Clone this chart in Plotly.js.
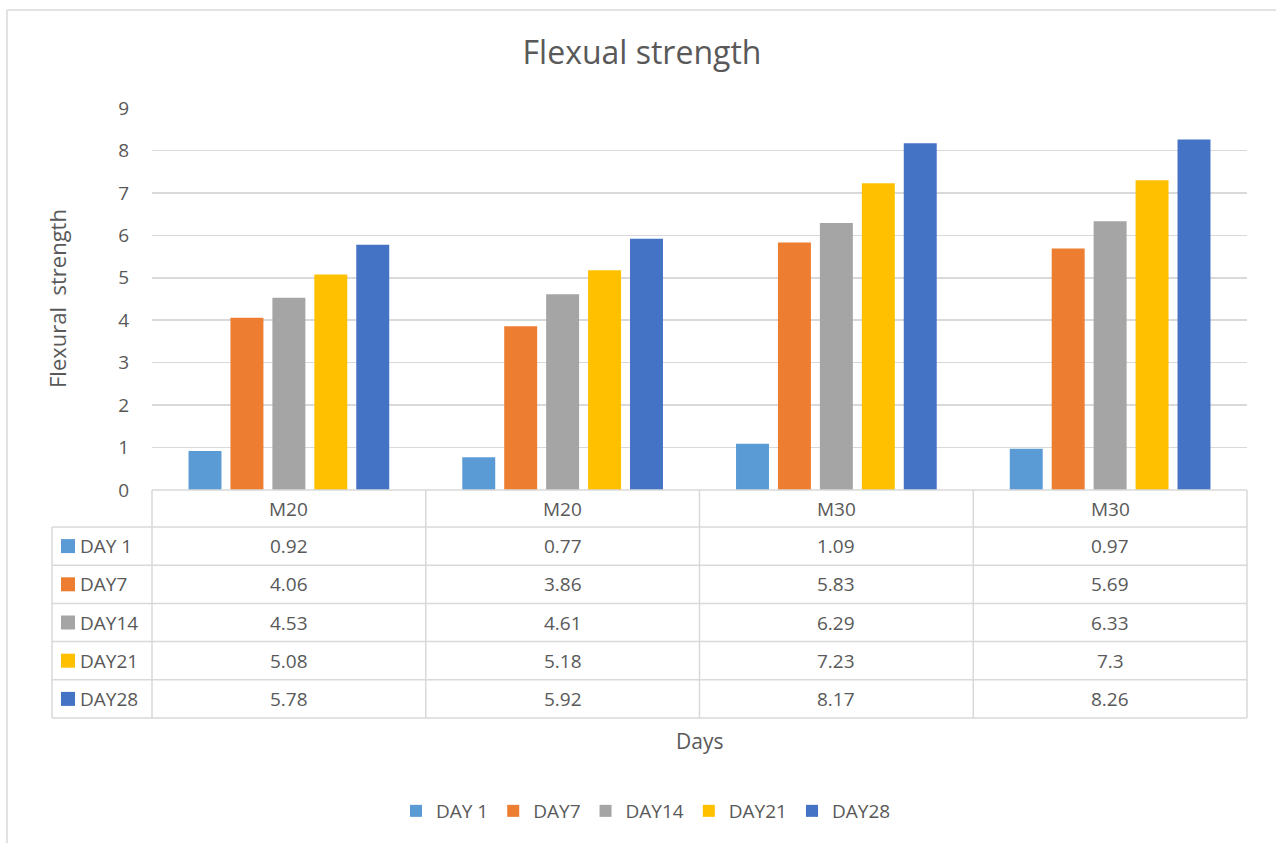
<!DOCTYPE html>
<html>
<head>
<meta charset="utf-8">
<script src="https://cdn.plot.ly/plotly-3.0.1.min.js"></script>
<style>html,body{margin:0;padding:0;background:#fff;}#chart{width:1276px;height:843px;}</style>
</head>
<body>
<div id="chart"></div>
<script>
// ---- data ----
const categories = ["M20", "M20", "M30", "M30"];
const seriesNames = ["DAY 1", "DAY7", "DAY14", "DAY21", "DAY28"];
const day1  = [0.92, 0.77, 1.09, 0.97];
const day7  = [4.06, 3.86, 5.83, 5.69];
const day14 = [4.53, 4.61, 6.29, 6.33];
const day21 = [5.08, 5.18, 7.23, 7.3];
const day28 = [5.78, 5.92, 8.17, 8.26];
const seriesValues = [day1, day7, day14, day21, day28];
const colors = ["#5b9bd5", "#ed7d31", "#a5a5a5", "#ffc000", "#4472c4"];

// ---- geometry (pixels) ----
const W = 1276, H = 843;
const PL = 152, PR = 1247, PT = 108, PB = 490;
const pw = PR - PL, ph = PB - PT;
const px = x => (x - PL) / pw;
const py = y => (PB - y) / ph;
const FONT = "Open Sans, Noto Sans, sans-serif";
const TXT = "#595959";
const LINE = "#d9d9d9";
const FS = 19;

const idx = categories.map((c, i) => i);
const traces = seriesValues.map((vals, s) => ({
  type: "bar",
  name: seriesNames[s],
  x: idx,
  y: vals,
  marker: {color: colors[s]},
  hoverinfo: "skip"
}));

const shapes = [];
const annotations = [];
const lineShape = (x0, y0, x1, y1) => shapes.push({
  type: "line", xref: "paper", yref: "paper",
  x0: px(x0), y0: py(y0), x1: px(x1), y1: py(y1),
  line: {color: LINE, width: 1.5}, layer: "above"
});

// table
const colX = [152, 425.75, 699.5, 973.25, 1247];
const rowY = [490, 527, 565.2, 603.4, 641.6, 679.8, 718];
const leftX = 52;
lineShape(PL, rowY[0], PR, rowY[0]);
for (let r = 1; r < rowY.length; r++) lineShape(leftX, rowY[r], PR, rowY[r]);
lineShape(leftX, rowY[1], leftX, rowY[rowY.length - 1]);
colX.forEach(x => lineShape(x, rowY[0], x, rowY[rowY.length - 1]));

categories.forEach((c, i) => {
  annotations.push({
    xref: "paper", yref: "paper",
    x: px((colX[i] + colX[i + 1]) / 2), y: py((rowY[0] + rowY[1]) / 2),
    text: c, showarrow: false, xanchor: "center", yanchor: "middle",
    font: {family: FONT, size: FS, color: TXT}
  });
});
seriesValues.forEach((vals, s) => {
  const yc = (rowY[s + 1] + rowY[s + 2]) / 2;
  shapes.push({
    type: "rect", xref: "paper", yref: "paper",
    x0: px(61), x1: px(75), y0: py(yc - 7), y1: py(yc + 7),
    fillcolor: colors[s], line: {width: 0}
  });
  annotations.push({
    xref: "paper", yref: "paper", x: px(78), y: py(yc),
    text: seriesNames[s], showarrow: false, xanchor: "left", yanchor: "middle",
    font: {family: FONT, size: FS, color: TXT}
  });
  vals.forEach((v, i) => {
    annotations.push({
      xref: "paper", yref: "paper",
      x: px((colX[i] + colX[i + 1]) / 2), y: py(yc),
      text: String(v), showarrow: false, xanchor: "center", yanchor: "middle",
      font: {family: FONT, size: FS, color: TXT}
    });
  });
});

annotations.push({
  xref: "paper", yref: "paper", x: px(699.5), y: py(741),
  text: "Days", showarrow: false, xanchor: "center", yanchor: "middle",
  font: {family: FONT, size: 21, color: TXT}
});
annotations.push({
  xref: "paper", yref: "paper", x: px(57), y: py(299),
  text: "Flexural  strength", showarrow: false, textangle: -90,
  xanchor: "center", yanchor: "middle",
  font: {family: FONT, size: 22, color: TXT}
});

lineShape(7, 10, W, 10);
lineShape(7, 10, 7, H + 5);

const layout = {
  width: W, height: H,
  margin: {l: PL, r: W - PR, t: PT, b: H - PB},
  paper_bgcolor: "#fff", plot_bgcolor: "#fff",
  title: {
    text: "Flexual strength", xref: "container", x: 642 / W, xanchor: "center",
    yref: "container", y: 1 - 53 / H, yanchor: "middle",
    font: {family: FONT, size: 32, color: TXT}
  },
  barmode: "group",
  bargap: 0.234,
  bargroupgap: 0.214,
  xaxis: {
    range: [-0.5, 3.5], showticklabels: false, showgrid: false,
    zeroline: false, showline: false, ticks: "", fixedrange: true
  },
  yaxis: {
    range: [0, 9], dtick: 1, tick0: 0, showgrid: true, gridcolor: LINE, gridwidth: 1.5,
    zeroline: false, showline: false, ticks: "", ticklabelstandoff: 22,
    tickfont: {family: FONT, size: FS, color: TXT}, fixedrange: true
  },
  showlegend: true,
  legend: {
    orientation: "h", xref: "container", x: 646 / W, xanchor: "center",
    yref: "container", y: 1 - 811 / H, yanchor: "middle",
    font: {family: FONT, size: FS, color: TXT},
    itemwidth: 30, tracegroupgap: 0, bgcolor: "rgba(0,0,0,0)"
  },
  shapes: shapes,
  annotations: annotations
};

Plotly.newPlot("chart", traces, layout, {displayModeBar: false, staticPlot: true});
</script>
</body>
</html>
